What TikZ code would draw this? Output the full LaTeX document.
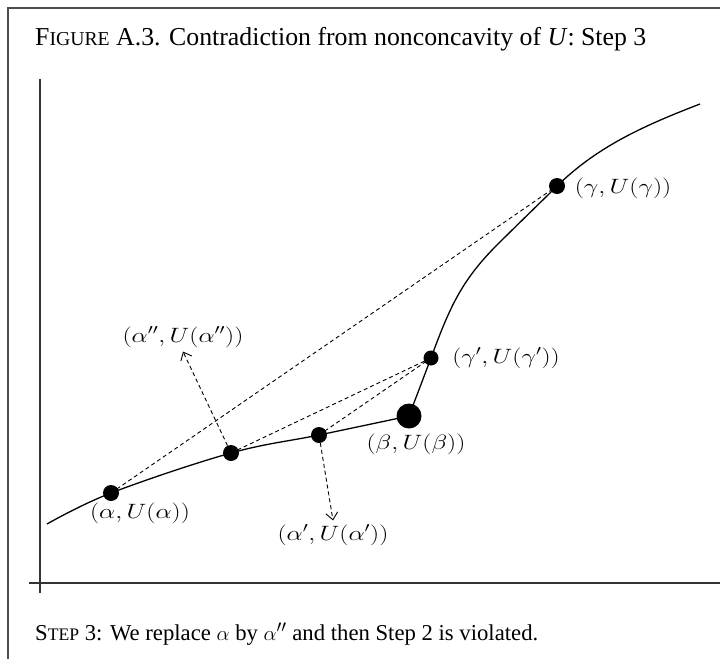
\documentclass[tikz,border=0pt]{standalone}
\usepackage{fontspec}
\setmainfont{Liberation Serif}
\usetikzlibrary{arrows.meta}
\newcommand{\wide}[1]{\scalebox{1.24}[1]{#1}}
\begin{document}
\begin{tikzpicture}[x=1pt,y=-1pt,
  dot/.style={circle,fill=black,draw=none,inner sep=0pt,minimum size=#1},
  lbl/.style={font=\fontsize{21.5}{25}\selectfont, inner sep=1pt},
  guide/.style={dash pattern=on 4pt off 3pt, line width=0.9pt},
  ptr/.style={guide, -{Straight Barb[length=7pt,width=12pt,line width=0.9pt]}},
  frameline/.style={draw=black!70, line width=1.8pt},
  axis/.style={draw=black!80, line width=1.4pt},
  curve/.style={line width=1.3pt},
  caption/.style={anchor=base west, inner sep=0pt}]
\useasboundingbox (0,0) rectangle (720,659);
% frame
\draw[frameline] (720,8) -- (8,8) -- (8,659);
% title and caption
\node[caption, font=\fontsize{25.8}{30}\selectfont] (title) at (35,45) {F{\fontsize{19.7}{22}\selectfont IGURE} A.3. Contradiction from nonconcavity of \textit{U}: Step 3};
\node[caption, font=\fontsize{22.7}{27}\selectfont] (note) at (35,640) {S{\fontsize{17.6}{20}\selectfont TEP} 3: We replace $\alpha$ by $\alpha''$ and then Step 2 is violated.};
% axes
\draw[axis] (40,79) -- (40,593);
\draw[axis] (29,583) -- (720,583);
% points
\node[dot=16pt] (a) at (111,493) {};
\node[dot=16pt] (a2) at (231,453) {};
\node[dot=16pt] (a1) at (319,435) {};
\node[dot=25pt] (b) at (409,416) {};
\node[dot=15pt] (g1) at (431,358) {};
\node[dot=16pt] (g) at (557,186) {};
% curve
\draw[curve] plot[smooth, tension=0.6] coordinates {(47,524) (111,493) (231,453) (319,435) (409,416)};
\draw[curve] (b.center) -- (g1.center)
  .. controls (450,306) and (462,281) .. (494,248)
  .. controls (520,222) and (540,203) .. (g.center)
  .. controls (596,148) and (640,127) .. (700,104);
% labels
\node[lbl] (la) at (140,513) {\wide{$(\alpha, U(\alpha))$}};
\node[lbl] (la2) at (183,337) {\wide{$(\alpha'', U(\alpha''))$}};
\node[lbl] (la1) at (333,535) {\wide{$(\alpha', U(\alpha'))$}};
\node[lbl] (lb) at (416,444) {\wide{$(\beta, U(\beta))$}};
\node[lbl] (lg1) at (506,358) {\wide{$(\gamma', U(\gamma'))$}};
\node[lbl] (lg) at (623,188) {\wide{$(\gamma, U(\gamma))$}};
% dashed chords
\draw[guide] (a.center) -- (g.center);
\draw[guide] (a2.center) -- (g1.center);
\draw[guide] (a1.center) -- (g1.center);
% pointers
\draw[ptr] (a2) -- ([yshift=-3pt]la2.south);
\draw[ptr] (a1) -- ([yshift=3pt]la1.north);
\end{tikzpicture}
\end{document}
